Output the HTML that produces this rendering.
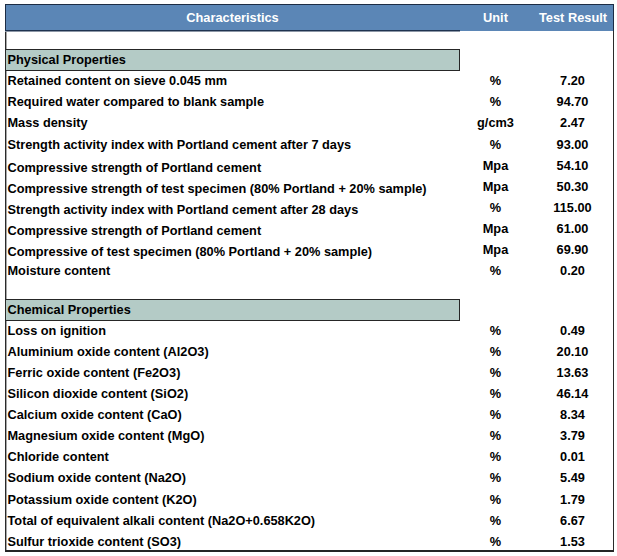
<!DOCTYPE html>
<html><head><meta charset="utf-8"><title>Test Result</title>
<style>
html,body{margin:0;padding:0;background:#fff;}
body{width:617px;height:556px;position:relative;overflow:hidden;font-family:"Liberation Sans",sans-serif;font-weight:bold;font-size:12.76px;color:#000;}
.frame{position:absolute;left:5px;top:4px;width:609px;height:548px;border:1px solid #2a2a2a;border-bottom:2px solid #242424;box-sizing:border-box;}
.lsoft{position:absolute;left:6px;top:31px;width:1px;height:519px;background:#a8a8a8;}
.hdr{position:absolute;left:5px;top:4px;width:609px;height:27px;background:#5b86b6;border:1px solid #1c2c44;border-bottom:none;box-sizing:border-box;}
.hline{position:absolute;left:5px;top:30px;width:455px;height:1px;background:#1f3350;border-bottom:1px solid #8d97a6;}
.hdr span{position:absolute;top:0;height:25px;line-height:25px;color:#fff;font-size:12.8px;text-align:center;}
.sec{position:absolute;left:6px;width:454px;height:22px;background:#b4cbc6;border:1px solid #262626;border-left:none;box-sizing:border-box;line-height:20px;padding-left:1.5px;}
.r{position:absolute;left:7.5px;height:16px;line-height:16px;white-space:nowrap;}
.u{position:absolute;left:455.5px;width:80px;text-align:center;height:16px;line-height:16px;}
.v{position:absolute;left:532.5px;width:80px;text-align:center;height:16px;line-height:16px;}
</style></head><body>
<div class="frame"></div><div class="lsoft"></div>
<div class="hdr"><span style="left:126.5px;width:200px">Characteristics</span><span style="left:449.5px;width:80px">Unit</span><span style="left:522px;width:90px">Test Result</span></div>
<div class="hline"></div>
<div class="sec" style="top:49px">Physical Properties</div>
<div class="sec" style="top:299px">Chemical Properties</div>

<div class="r" style="top:73px">Retained content on sieve 0.045 mm</div><div class="u" style="top:73px">%</div><div class="v" style="top:73px">7.20</div>
<div class="r" style="top:94px">Required water compared to blank sample</div><div class="u" style="top:94px">%</div><div class="v" style="top:94px">94.70</div>
<div class="r" style="top:115px">Mass density</div><div class="u" style="top:115px">g/cm3</div><div class="v" style="top:115px">2.47</div>
<div class="r" style="top:137px">Strength activity index with Portland cement after 7 days</div><div class="u" style="top:137px">%</div><div class="v" style="top:137px">93.00</div>
<div class="r" style="top:160px">Compressive strength of Portland cement</div><div class="u" style="top:158px">Mpa</div><div class="v" style="top:158px">54.10</div>
<div class="r" style="top:181px">Compressive strength of test specimen (80% Portland + 20% sample)</div><div class="u" style="top:179px">Mpa</div><div class="v" style="top:179px">50.30</div>
<div class="r" style="top:202px">Strength activity index with Portland cement after 28 days</div><div class="u" style="top:200px">%</div><div class="v" style="top:200px">115.00</div>
<div class="r" style="top:223px">Compressive strength of Portland cement</div><div class="u" style="top:221px">Mpa</div><div class="v" style="top:221px">61.00</div>
<div class="r" style="top:244px">Compressive of test specimen (80% Portland + 20% sample)</div><div class="u" style="top:242px">Mpa</div><div class="v" style="top:242px">69.90</div>
<div class="r" style="top:263px">Moisture content</div><div class="u" style="top:263px">%</div><div class="v" style="top:263px">0.20</div>
<div class="r" style="top:323px">Loss on ignition</div><div class="u" style="top:323px">%</div><div class="v" style="top:323px">0.49</div>
<div class="r" style="top:344px">Aluminium oxide content (Al2O3)</div><div class="u" style="top:344px">%</div><div class="v" style="top:344px">20.10</div>
<div class="r" style="top:365px">Ferric oxide content (Fe2O3)</div><div class="u" style="top:365px">%</div><div class="v" style="top:365px">13.63</div>
<div class="r" style="top:386px">Silicon dioxide content (SiO2)</div><div class="u" style="top:386px">%</div><div class="v" style="top:386px">46.14</div>
<div class="r" style="top:407px">Calcium oxide content (CaO)</div><div class="u" style="top:407px">%</div><div class="v" style="top:407px">8.34</div>
<div class="r" style="top:428px">Magnesium oxide content (MgO)</div><div class="u" style="top:428px">%</div><div class="v" style="top:428px">3.79</div>
<div class="r" style="top:449px">Chloride content</div><div class="u" style="top:449px">%</div><div class="v" style="top:449px">0.01</div>
<div class="r" style="top:470px">Sodium oxide content (Na2O)</div><div class="u" style="top:470px">%</div><div class="v" style="top:470px">5.49</div>
<div class="r" style="top:492px">Potassium oxide content (K2O)</div><div class="u" style="top:492px">%</div><div class="v" style="top:492px">1.79</div>
<div class="r" style="top:513px">Total of equivalent alkali content (Na2O+0.658K2O)</div><div class="u" style="top:513px">%</div><div class="v" style="top:513px">6.67</div>
<div class="r" style="top:534px">Sulfur trioxide content (SO3)</div><div class="u" style="top:534px">%</div><div class="v" style="top:534px">1.53</div>
</body></html>
